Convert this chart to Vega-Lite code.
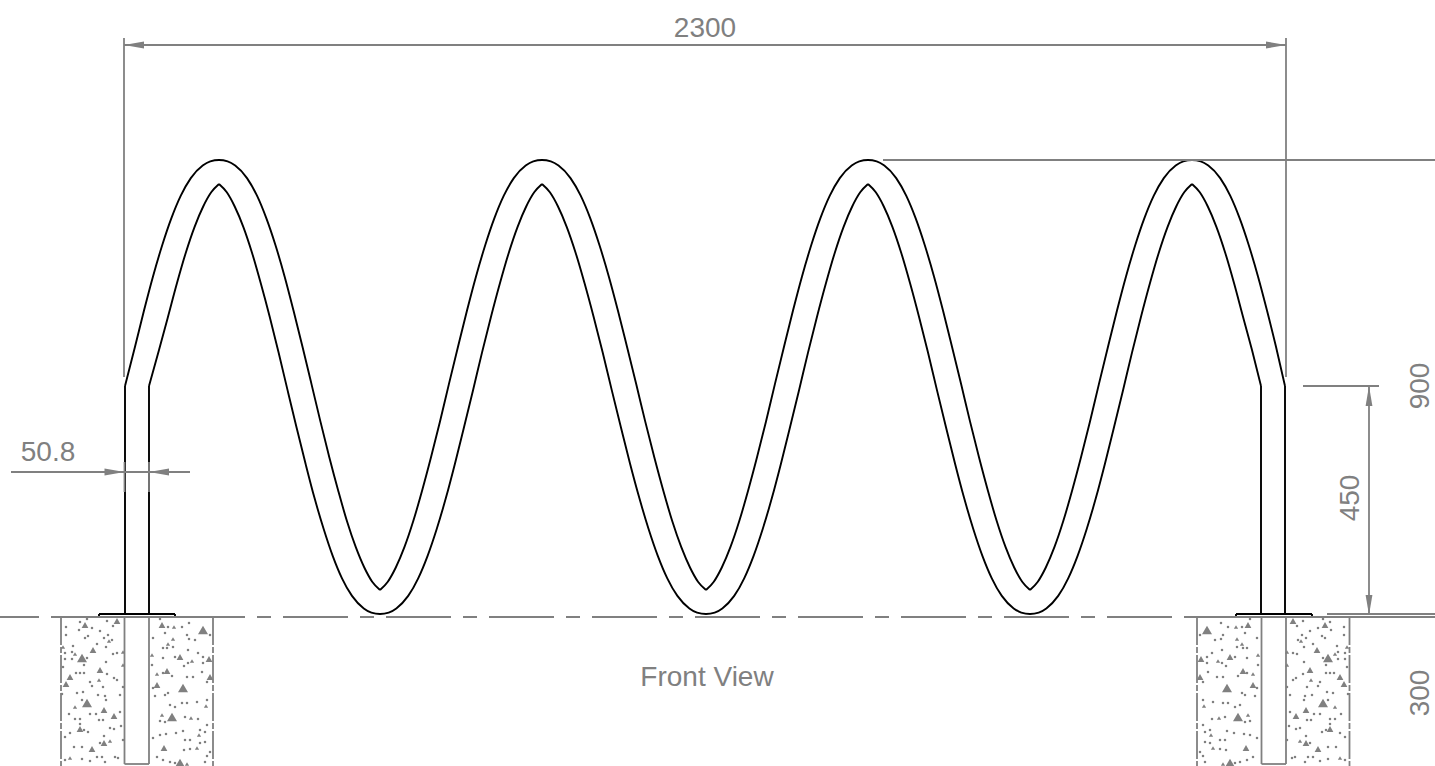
{"$schema":"https://vega.github.io/schema/vega-lite/v6.json","width":1435,"height":766,"autosize":"none","padding":0,"background":"white","config":{"view":{"stroke":null}},
"datasets":{"speckle":[
{"x":85,"y":625,"k":"m"},{"x":117,"y":621,"k":"m"},{"x":93,"y":650,"k":"m"},{"x":82,"y":658,"k":"l"},{"x":75,"y":654,"k":"s"},{"x":100,"y":670,"k":"m"},{"x":70,"y":677,"k":"m"},{"x":99,"y":680,"k":"s"},{"x":66,"y":684,"k":"m"},{"x":87,"y":703,"k":"l"},{"x":75,"y":707,"k":"s"},{"x":104,"y":710,"k":"m"},{"x":114,"y":716,"k":"m"},{"x":80,"y":729,"k":"m"},{"x":104,"y":743,"k":"m"},{"x":110,"y":741,"k":"s"},{"x":92,"y":749,"k":"m"},{"x":70,"y":758,"k":"s"},{"x":63,"y":647,"k":"s"},{"x":109,"y":641,"k":"s"},{"x":123,"y":652,"k":"s"},{"x":123,"y":665,"k":"s"},
{"x":162,"y":625,"k":"m"},{"x":174,"y":627,"k":"s"},{"x":203,"y":630,"k":"l"},{"x":168,"y":644,"k":"s"},{"x":173,"y":639,"k":"s"},{"x":180,"y":657,"k":"m"},{"x":209,"y":659,"k":"m"},{"x":192,"y":661,"k":"s"},{"x":167,"y":671,"k":"m"},{"x":157,"y":674,"k":"s"},{"x":210,"y":677,"k":"m"},{"x":157,"y":685,"k":"m"},{"x":183,"y":688,"k":"l"},{"x":172,"y":717,"k":"l"},{"x":162,"y":715,"k":"s"},{"x":191,"y":718,"k":"s"},{"x":206,"y":706,"k":"s"},{"x":199,"y":735,"k":"s"},{"x":164,"y":748,"k":"m"},{"x":197,"y":748,"k":"s"},{"x":180,"y":763,"k":"l"},{"x":187,"y":764,"k":"s"},{"x":152,"y":655,"k":"s"},
{"x":1325,"y":625,"k":"m"},{"x":1293,"y":621,"k":"m"},{"x":1317,"y":650,"k":"m"},{"x":1328,"y":658,"k":"l"},{"x":1335,"y":654,"k":"s"},{"x":1310,"y":670,"k":"m"},{"x":1340,"y":677,"k":"m"},{"x":1311,"y":680,"k":"s"},{"x":1344,"y":684,"k":"m"},{"x":1323,"y":703,"k":"l"},{"x":1335,"y":707,"k":"s"},{"x":1306,"y":710,"k":"m"},{"x":1296,"y":716,"k":"m"},{"x":1330,"y":729,"k":"m"},{"x":1306,"y":743,"k":"m"},{"x":1300,"y":741,"k":"s"},{"x":1318,"y":749,"k":"m"},{"x":1340,"y":758,"k":"s"},{"x":1347,"y":647,"k":"s"},{"x":1301,"y":641,"k":"s"},{"x":1287,"y":652,"k":"s"},{"x":1287,"y":665,"k":"s"},
{"x":1248,"y":625,"k":"m"},{"x":1236,"y":627,"k":"s"},{"x":1207,"y":630,"k":"l"},{"x":1242,"y":644,"k":"s"},{"x":1237,"y":639,"k":"s"},{"x":1230,"y":657,"k":"m"},{"x":1201,"y":659,"k":"m"},{"x":1218,"y":661,"k":"s"},{"x":1243,"y":671,"k":"m"},{"x":1253,"y":674,"k":"s"},{"x":1200,"y":677,"k":"m"},{"x":1253,"y":685,"k":"m"},{"x":1227,"y":688,"k":"l"},{"x":1238,"y":717,"k":"l"},{"x":1248,"y":715,"k":"s"},{"x":1219,"y":718,"k":"s"},{"x":1204,"y":706,"k":"s"},{"x":1211,"y":735,"k":"s"},{"x":1246,"y":748,"k":"m"},{"x":1213,"y":748,"k":"s"},{"x":1230,"y":763,"k":"l"},{"x":1223,"y":764,"k":"s"},{"x":1258,"y":655,"k":"s"},
{"x":80,"y":622,"k":"d"},{"x":87,"y":619,"k":"d"},{"x":107,"y":621,"k":"d"},{"x":66,"y":627,"k":"d"},{"x":79,"y":630,"k":"d"},{"x":92,"y":628,"k":"d"},{"x":100,"y":631,"k":"d"},{"x":113,"y":626,"k":"d"},{"x":108,"y":635,"k":"d"},{"x":66,"y":635,"k":"d"},{"x":88,"y":636,"k":"d"},{"x":85,"y":638,"k":"d"},{"x":104,"y":638,"k":"d"},{"x":112,"y":640,"k":"d"},{"x":73,"y":646,"k":"d"},{"x":106,"y":647,"k":"d"},{"x":97,"y":644,"k":"d"},{"x":65,"y":653,"k":"d"},{"x":72,"y":652,"k":"d"},{"x":87,"y":658,"k":"d"},{"x":65,"y":659,"k":"d"},{"x":72,"y":659,"k":"d"},{"x":106,"y":662,"k":"d"},{"x":113,"y":654,"k":"d"},{"x":117,"y":653,"k":"d"},{"x":84,"y":665,"k":"d"},{"x":63,"y":667,"k":"d"},{"x":76,"y":673,"k":"d"},{"x":80,"y":673,"k":"d"},{"x":84,"y":673,"k":"d"},{"x":107,"y":674,"k":"d"},{"x":114,"y":678,"k":"d"},{"x":117,"y":680,"k":"d"},{"x":90,"y":682,"k":"d"},{"x":92,"y":686,"k":"d"},{"x":103,"y":687,"k":"d"},{"x":123,"y":687,"k":"d"},{"x":77,"y":693,"k":"d"},{"x":83,"y":692,"k":"d"},{"x":62,"y":694,"k":"d"},{"x":105,"y":696,"k":"d"},{"x":98,"y":695,"k":"d"},{"x":106,"y":700,"k":"d"},{"x":120,"y":695,"k":"d"},{"x":82,"y":700,"k":"d"},{"x":69,"y":714,"k":"d"},{"x":90,"y":714,"k":"d"},{"x":96,"y":714,"k":"d"},{"x":75,"y":719,"k":"d"},{"x":80,"y":719,"k":"d"},{"x":99,"y":720,"k":"d"},{"x":103,"y":720,"k":"d"},{"x":80,"y":724,"k":"d"},{"x":110,"y":728,"k":"d"},{"x":114,"y":729,"k":"d"},{"x":121,"y":726,"k":"d"},{"x":120,"y":712,"k":"d"},{"x":88,"y":732,"k":"d"},{"x":84,"y":730,"k":"d"},{"x":104,"y":736,"k":"d"},{"x":70,"y":733,"k":"d"},{"x":65,"y":737,"k":"d"},{"x":123,"y":740,"k":"d"},{"x":74,"y":747,"k":"d"},{"x":82,"y":747,"k":"d"},{"x":100,"y":743,"k":"d"},{"x":82,"y":759,"k":"d"},{"x":90,"y":761,"k":"d"},{"x":97,"y":757,"k":"d"},{"x":102,"y":757,"k":"d"},{"x":115,"y":757,"k":"d"},{"x":118,"y":758,"k":"d"},{"x":65,"y":760,"k":"d"},{"x":105,"y":762,"k":"d"},
{"x":160,"y":619,"k":"d"},{"x":189,"y":623,"k":"d"},{"x":168,"y":627,"k":"d"},{"x":182,"y":627,"k":"d"},{"x":153,"y":638,"k":"d"},{"x":165,"y":633,"k":"d"},{"x":187,"y":635,"k":"d"},{"x":195,"y":640,"k":"d"},{"x":189,"y":639,"k":"d"},{"x":210,"y":635,"k":"d"},{"x":163,"y":648,"k":"d"},{"x":167,"y":648,"k":"d"},{"x":173,"y":647,"k":"d"},{"x":188,"y":650,"k":"d"},{"x":198,"y":653,"k":"d"},{"x":203,"y":657,"k":"d"},{"x":163,"y":658,"k":"d"},{"x":175,"y":657,"k":"d"},{"x":184,"y":666,"k":"d"},{"x":188,"y":663,"k":"d"},{"x":203,"y":663,"k":"d"},{"x":152,"y":665,"k":"d"},{"x":163,"y":673,"k":"d"},{"x":172,"y":676,"k":"d"},{"x":187,"y":677,"k":"d"},{"x":193,"y":677,"k":"d"},{"x":202,"y":672,"k":"d"},{"x":207,"y":682,"k":"d"},{"x":153,"y":688,"k":"d"},{"x":165,"y":695,"k":"d"},{"x":170,"y":705,"k":"d"},{"x":175,"y":707,"k":"d"},{"x":182,"y":703,"k":"d"},{"x":187,"y":703,"k":"d"},{"x":197,"y":702,"k":"d"},{"x":207,"y":700,"k":"d"},{"x":155,"y":696,"k":"d"},{"x":168,"y":693,"k":"d"},{"x":160,"y":721,"k":"d"},{"x":165,"y":722,"k":"d"},{"x":185,"y":717,"k":"d"},{"x":198,"y":719,"k":"d"},{"x":207,"y":725,"k":"d"},{"x":183,"y":731,"k":"d"},{"x":200,"y":730,"k":"d"},{"x":205,"y":732,"k":"d"},{"x":160,"y":735,"k":"d"},{"x":166,"y":734,"k":"d"},{"x":176,"y":733,"k":"d"},{"x":153,"y":738,"k":"d"},{"x":190,"y":740,"k":"d"},{"x":185,"y":740,"k":"d"},{"x":200,"y":743,"k":"d"},{"x":205,"y":742,"k":"d"},{"x":157,"y":757,"k":"d"},{"x":184,"y":750,"k":"d"},{"x":190,"y":749,"k":"d"},{"x":207,"y":756,"k":"d"},{"x":205,"y":762,"k":"d"},{"x":163,"y":760,"k":"d"},{"x":170,"y":762,"k":"d"},{"x":175,"y":763,"k":"d"},{"x":210,"y":752,"k":"d"},
{"x":1330,"y":622,"k":"d"},{"x":1323,"y":619,"k":"d"},{"x":1303,"y":621,"k":"d"},{"x":1344,"y":627,"k":"d"},{"x":1331,"y":630,"k":"d"},{"x":1318,"y":628,"k":"d"},{"x":1310,"y":631,"k":"d"},{"x":1297,"y":626,"k":"d"},{"x":1302,"y":635,"k":"d"},{"x":1344,"y":635,"k":"d"},{"x":1322,"y":636,"k":"d"},{"x":1325,"y":638,"k":"d"},{"x":1306,"y":638,"k":"d"},{"x":1298,"y":640,"k":"d"},{"x":1337,"y":646,"k":"d"},{"x":1304,"y":647,"k":"d"},{"x":1313,"y":644,"k":"d"},{"x":1345,"y":653,"k":"d"},{"x":1338,"y":652,"k":"d"},{"x":1323,"y":658,"k":"d"},{"x":1345,"y":659,"k":"d"},{"x":1338,"y":659,"k":"d"},{"x":1304,"y":662,"k":"d"},{"x":1297,"y":654,"k":"d"},{"x":1293,"y":653,"k":"d"},{"x":1326,"y":665,"k":"d"},{"x":1347,"y":667,"k":"d"},{"x":1334,"y":673,"k":"d"},{"x":1330,"y":673,"k":"d"},{"x":1326,"y":673,"k":"d"},{"x":1303,"y":674,"k":"d"},{"x":1296,"y":678,"k":"d"},{"x":1293,"y":680,"k":"d"},{"x":1320,"y":682,"k":"d"},{"x":1318,"y":686,"k":"d"},{"x":1307,"y":687,"k":"d"},{"x":1287,"y":687,"k":"d"},{"x":1333,"y":693,"k":"d"},{"x":1327,"y":692,"k":"d"},{"x":1348,"y":694,"k":"d"},{"x":1305,"y":696,"k":"d"},{"x":1312,"y":695,"k":"d"},{"x":1304,"y":700,"k":"d"},{"x":1290,"y":695,"k":"d"},{"x":1328,"y":700,"k":"d"},{"x":1341,"y":714,"k":"d"},{"x":1320,"y":714,"k":"d"},{"x":1314,"y":714,"k":"d"},{"x":1335,"y":719,"k":"d"},{"x":1330,"y":719,"k":"d"},{"x":1311,"y":720,"k":"d"},{"x":1307,"y":720,"k":"d"},{"x":1330,"y":724,"k":"d"},{"x":1300,"y":728,"k":"d"},{"x":1296,"y":729,"k":"d"},{"x":1289,"y":726,"k":"d"},{"x":1290,"y":712,"k":"d"},{"x":1322,"y":732,"k":"d"},{"x":1326,"y":730,"k":"d"},{"x":1306,"y":736,"k":"d"},{"x":1340,"y":733,"k":"d"},{"x":1345,"y":737,"k":"d"},{"x":1287,"y":740,"k":"d"},{"x":1336,"y":747,"k":"d"},{"x":1328,"y":747,"k":"d"},{"x":1310,"y":743,"k":"d"},{"x":1328,"y":759,"k":"d"},{"x":1320,"y":761,"k":"d"},{"x":1313,"y":757,"k":"d"},{"x":1308,"y":757,"k":"d"},{"x":1295,"y":757,"k":"d"},{"x":1292,"y":758,"k":"d"},{"x":1345,"y":760,"k":"d"},{"x":1305,"y":762,"k":"d"},
{"x":1250,"y":619,"k":"d"},{"x":1221,"y":623,"k":"d"},{"x":1242,"y":627,"k":"d"},{"x":1228,"y":627,"k":"d"},{"x":1257,"y":638,"k":"d"},{"x":1245,"y":633,"k":"d"},{"x":1223,"y":635,"k":"d"},{"x":1215,"y":640,"k":"d"},{"x":1221,"y":639,"k":"d"},{"x":1200,"y":635,"k":"d"},{"x":1247,"y":648,"k":"d"},{"x":1243,"y":648,"k":"d"},{"x":1237,"y":647,"k":"d"},{"x":1222,"y":650,"k":"d"},{"x":1212,"y":653,"k":"d"},{"x":1207,"y":657,"k":"d"},{"x":1247,"y":658,"k":"d"},{"x":1235,"y":657,"k":"d"},{"x":1226,"y":666,"k":"d"},{"x":1222,"y":663,"k":"d"},{"x":1207,"y":663,"k":"d"},{"x":1258,"y":665,"k":"d"},{"x":1247,"y":673,"k":"d"},{"x":1238,"y":676,"k":"d"},{"x":1223,"y":677,"k":"d"},{"x":1217,"y":677,"k":"d"},{"x":1208,"y":672,"k":"d"},{"x":1203,"y":682,"k":"d"},{"x":1257,"y":688,"k":"d"},{"x":1245,"y":695,"k":"d"},{"x":1240,"y":705,"k":"d"},{"x":1235,"y":707,"k":"d"},{"x":1228,"y":703,"k":"d"},{"x":1223,"y":703,"k":"d"},{"x":1213,"y":702,"k":"d"},{"x":1203,"y":700,"k":"d"},{"x":1255,"y":696,"k":"d"},{"x":1242,"y":693,"k":"d"},{"x":1250,"y":721,"k":"d"},{"x":1245,"y":722,"k":"d"},{"x":1225,"y":717,"k":"d"},{"x":1212,"y":719,"k":"d"},{"x":1203,"y":725,"k":"d"},{"x":1227,"y":731,"k":"d"},{"x":1210,"y":730,"k":"d"},{"x":1205,"y":732,"k":"d"},{"x":1250,"y":735,"k":"d"},{"x":1244,"y":734,"k":"d"},{"x":1234,"y":733,"k":"d"},{"x":1257,"y":738,"k":"d"},{"x":1220,"y":740,"k":"d"},{"x":1225,"y":740,"k":"d"},{"x":1210,"y":743,"k":"d"},{"x":1205,"y":742,"k":"d"},{"x":1253,"y":757,"k":"d"},{"x":1226,"y":750,"k":"d"},{"x":1220,"y":749,"k":"d"},{"x":1203,"y":756,"k":"d"},{"x":1205,"y":762,"k":"d"},{"x":1247,"y":760,"k":"d"},{"x":1240,"y":762,"k":"d"},{"x":1235,"y":763,"k":"d"},{"x":1200,"y":752,"k":"d"}
],
"arrows":[{"x":124,"y":45,"dir":"left"},{"x":1286,"y":45,"dir":"right"},{"x":1369,"y":386,"dir":"up"},{"x":1369,"y":615,"dir":"down"},{"x":124.5,"y":472,"dir":"right"},{"x":149,"y":472,"dir":"left"}]},
"encoding":{"x":{"field":"x","type":"quantitative","scale":{"domain":[0,1435],"nice":false,"zero":false},"axis":null},"y":{"field":"y","type":"quantitative","scale":{"domain":[766,0],"nice":false,"zero":false},"axis":null}},
"layer":[
{"data":{"values":[{"x":0,"y":617,"x2":1435,"y2":617}]},"mark":{"type":"rule","color":"#808080","strokeWidth":1.8,"strokeDash":[65,12,14,12],"strokeDashOffset":26},"encoding":{"x2":{"field":"x2"},"y2":{"field":"y2"}}},
{"data":{"values":[{"x":61,"y":617,"x2":61,"y2":766},{"x":213,"y":617,"x2":213,"y2":766},{"x":1197,"y":617,"x2":1197,"y2":766},{"x":1349.5,"y":617,"x2":1349.5,"y2":766}]},"mark":{"type":"rule","color":"#808080","strokeWidth":1.8,"strokeDash":[28,2,6,2]},"encoding":{"x2":{"field":"x2"},"y2":{"field":"y2"}}},
{"data":{"name":"speckle"},"transform":[{"filter":"datum.k==='d'"}],"mark":{"type":"point","shape":"square","filled":true,"opacity":1,"color":"#808080","size":5}},
{"data":{"name":"speckle"},"transform":[{"filter":"datum.k==='s'"}],"mark":{"type":"point","shape":"triangle-up","filled":true,"opacity":1,"color":"#808080","size":18}},
{"data":{"name":"speckle"},"transform":[{"filter":"datum.k==='m'"}],"mark":{"type":"point","shape":"triangle-up","filled":true,"opacity":1,"color":"#808080","size":45}},
{"data":{"name":"speckle"},"transform":[{"filter":"datum.k==='l'"}],"mark":{"type":"point","shape":"triangle-up","filled":true,"opacity":1,"color":"#808080","size":100}},
{"data":{"values":[
{"s":"b1","x":125,"y":386},{"s":"b1","x":135,"y":346.8},{"s":"b1","x":144,"y":310.5},{"s":"b1","x":153,"y":276.4},{"s":"b1","x":162.2,"y":245.3},{"s":"b1","x":171.4,"y":218.2},{"s":"b1","x":180.8,"y":195.7},{"s":"b1","x":190.8,"y":178.1},{"s":"b1","x":202.7,"y":165.6},{"s":"b1","x":210.3,"y":161.4},{"s":"b1","x":219,"y":160},{"s":"b1","x":227.6,"y":161.4},{"s":"b1","x":235.2,"y":165.6},{"s":"b1","x":247,"y":178.1},{"s":"b1","x":257,"y":195.7},{"s":"b1","x":266.3,"y":218.2},{"s":"b1","x":275.5,"y":245.3},{"s":"b1","x":284.6,"y":276.4},{"s":"b1","x":293.5,"y":310.5},{"s":"b1","x":302.5,"y":346.8},{"s":"b1","x":311.5,"y":384.1},{"s":"b1","x":320.4,"y":421.4},{"s":"b1","x":329.3,"y":457.3},{"s":"b1","x":338.3,"y":491},{"s":"b1","x":347,"y":521.3},{"s":"b1","x":355.8,"y":547.2},{"s":"b1","x":364.3,"y":567.5},{"s":"b1","x":372.2,"y":581.7},{"s":"b1","x":380,"y":590},
{"s":"b2","x":380,"y":590},{"s":"b2","x":387.8,"y":581.7},{"s":"b2","x":395.8,"y":567.5},{"s":"b2","x":404.4,"y":547.2},{"s":"b2","x":413.2,"y":521.3},{"s":"b2","x":422,"y":491},{"s":"b2","x":431,"y":457.3},{"s":"b2","x":440,"y":421.4},{"s":"b2","x":448.9,"y":384.1},{"s":"b2","x":458,"y":346.8},{"s":"b2","x":467,"y":310.5},{"s":"b2","x":476,"y":276.4},{"s":"b2","x":485.2,"y":245.3},{"s":"b2","x":494.4,"y":218.2},{"s":"b2","x":503.8,"y":195.7},{"s":"b2","x":513.8,"y":178.1},{"s":"b2","x":525.7,"y":165.6},{"s":"b2","x":533.3,"y":161.4},{"s":"b2","x":542,"y":160},{"s":"b2","x":550.8,"y":161.4},{"s":"b2","x":558.5,"y":165.6},{"s":"b2","x":570.5,"y":178.1},{"s":"b2","x":580.7,"y":195.7},{"s":"b2","x":590.2,"y":218.2},{"s":"b2","x":599.5,"y":245.3},{"s":"b2","x":608.8,"y":276.4},{"s":"b2","x":617.9,"y":310.5},{"s":"b2","x":627,"y":346.8},{"s":"b2","x":636.2,"y":384.1},{"s":"b2","x":645.2,"y":421.4},{"s":"b2","x":654.3,"y":457.3},{"s":"b2","x":663.4,"y":491},{"s":"b2","x":672.3,"y":521.3},{"s":"b2","x":681.3,"y":547.2},{"s":"b2","x":690,"y":567.5},{"s":"b2","x":698,"y":581.7},{"s":"b2","x":706,"y":590},
{"s":"b3","x":706,"y":590},{"s":"b3","x":713.8,"y":581.7},{"s":"b3","x":721.8,"y":567.5},{"s":"b3","x":730.4,"y":547.2},{"s":"b3","x":739.2,"y":521.3},{"s":"b3","x":748,"y":491},{"s":"b3","x":757,"y":457.3},{"s":"b3","x":766,"y":421.4},{"s":"b3","x":774.9,"y":384.1},{"s":"b3","x":784,"y":346.8},{"s":"b3","x":793,"y":310.5},{"s":"b3","x":802,"y":276.4},{"s":"b3","x":811.2,"y":245.3},{"s":"b3","x":820.4,"y":218.2},{"s":"b3","x":829.8,"y":195.7},{"s":"b3","x":839.8,"y":178.1},{"s":"b3","x":851.7,"y":165.6},{"s":"b3","x":859.3,"y":161.4},{"s":"b3","x":868,"y":160},{"s":"b3","x":876.7,"y":161.4},{"s":"b3","x":884.3,"y":165.6},{"s":"b3","x":896.2,"y":178.1},{"s":"b3","x":906.2,"y":195.7},{"s":"b3","x":915.6,"y":218.2},{"s":"b3","x":924.8,"y":245.3},{"s":"b3","x":934,"y":276.4},{"s":"b3","x":943,"y":310.5},{"s":"b3","x":952,"y":346.8},{"s":"b3","x":961.1,"y":384.1},{"s":"b3","x":970,"y":421.4},{"s":"b3","x":979,"y":457.3},{"s":"b3","x":988,"y":491},{"s":"b3","x":996.8,"y":521.3},{"s":"b3","x":1005.6,"y":547.2},{"s":"b3","x":1014.2,"y":567.5},{"s":"b3","x":1022.2,"y":581.7},{"s":"b3","x":1030,"y":590},
{"s":"b4","x":1030,"y":590},{"s":"b4","x":1037.8,"y":581.7},{"s":"b4","x":1045.8,"y":567.5},{"s":"b4","x":1054.4,"y":547.2},{"s":"b4","x":1063.2,"y":521.3},{"s":"b4","x":1072,"y":491},{"s":"b4","x":1081,"y":457.3},{"s":"b4","x":1090,"y":421.4},{"s":"b4","x":1098.9,"y":384.1},{"s":"b4","x":1108,"y":346.8},{"s":"b4","x":1117,"y":310.5},{"s":"b4","x":1126,"y":276.4},{"s":"b4","x":1135.2,"y":245.3},{"s":"b4","x":1144.4,"y":218.2},{"s":"b4","x":1153.8,"y":195.7},{"s":"b4","x":1163.8,"y":178.1},{"s":"b4","x":1175.7,"y":165.6},{"s":"b4","x":1183.3,"y":161.4},{"s":"b4","x":1192,"y":160},{"s":"b4","x":1200.7,"y":161.4},{"s":"b4","x":1208.3,"y":165.6},{"s":"b4","x":1220.2,"y":178.1},{"s":"b4","x":1230.2,"y":195.7},{"s":"b4","x":1239.6,"y":218.2},{"s":"b4","x":1248.8,"y":245.3},{"s":"b4","x":1258,"y":276.4},{"s":"b4","x":1267,"y":310.5},{"s":"b4","x":1276,"y":346.8},{"s":"b4","x":1285,"y":386},
{"s":"a1","x":149,"y":386},{"s":"a1","x":159,"y":350},{"s":"a1","x":168,"y":316.7},{"s":"a1","x":177,"y":283},{"s":"a1","x":185.8,"y":252.7},{"s":"a1","x":194.6,"y":226.8},{"s":"a1","x":203.2,"y":206.5},{"s":"a1","x":211.2,"y":192.3},{"s":"a1","x":219,"y":184},
{"s":"a2","x":219,"y":184},{"s":"a2","x":226.8,"y":192.3},{"s":"a2","x":234.7,"y":206.5},{"s":"a2","x":243.3,"y":226.8},{"s":"a2","x":252,"y":252.7},{"s":"a2","x":260.7,"y":283},{"s":"a2","x":269.7,"y":316.7},{"s":"a2","x":278.6,"y":352.6},{"s":"a2","x":287.5,"y":389.9},{"s":"a2","x":296.5,"y":427.2},{"s":"a2","x":305.5,"y":463.5},{"s":"a2","x":314.4,"y":497.6},{"s":"a2","x":323.6,"y":528.7},{"s":"a2","x":332.7,"y":555.8},{"s":"a2","x":342,"y":578.3},{"s":"a2","x":352,"y":595.9},{"s":"a2","x":363.8,"y":608.4},{"s":"a2","x":371.4,"y":612.6},{"s":"a2","x":380,"y":614},{"s":"a2","x":388.7,"y":612.6},{"s":"a2","x":396.3,"y":608.4},{"s":"a2","x":408.2,"y":595.9},{"s":"a2","x":418.2,"y":578.3},{"s":"a2","x":427.6,"y":555.8},{"s":"a2","x":436.8,"y":528.7},{"s":"a2","x":446,"y":497.6},{"s":"a2","x":455,"y":463.5},{"s":"a2","x":464,"y":427.2},{"s":"a2","x":473.1,"y":389.9},{"s":"a2","x":482,"y":352.6},{"s":"a2","x":491,"y":316.7},{"s":"a2","x":500,"y":283},{"s":"a2","x":508.8,"y":252.7},{"s":"a2","x":517.6,"y":226.8},{"s":"a2","x":526.2,"y":206.5},{"s":"a2","x":534.2,"y":192.3},{"s":"a2","x":542,"y":184},
{"s":"a3","x":542,"y":184},{"s":"a3","x":549.9,"y":192.3},{"s":"a3","x":558,"y":206.5},{"s":"a3","x":566.7,"y":226.8},{"s":"a3","x":575.6,"y":252.7},{"s":"a3","x":584.5,"y":283},{"s":"a3","x":593.6,"y":316.7},{"s":"a3","x":602.7,"y":352.6},{"s":"a3","x":611.7,"y":389.9},{"s":"a3","x":620.9,"y":427.2},{"s":"a3","x":630,"y":463.5},{"s":"a3","x":639.2,"y":497.6},{"s":"a3","x":648.5,"y":528.7},{"s":"a3","x":657.8,"y":555.8},{"s":"a3","x":667.3,"y":578.3},{"s":"a3","x":677.4,"y":595.9},{"s":"a3","x":689.4,"y":608.4},{"s":"a3","x":697.1,"y":612.6},{"s":"a3","x":706,"y":614},{"s":"a3","x":714.7,"y":612.6},{"s":"a3","x":722.3,"y":608.4},{"s":"a3","x":734.2,"y":595.9},{"s":"a3","x":744.2,"y":578.3},{"s":"a3","x":753.6,"y":555.8},{"s":"a3","x":762.8,"y":528.7},{"s":"a3","x":772,"y":497.6},{"s":"a3","x":781,"y":463.5},{"s":"a3","x":790,"y":427.2},{"s":"a3","x":799.1,"y":389.9},{"s":"a3","x":808,"y":352.6},{"s":"a3","x":817,"y":316.7},{"s":"a3","x":826,"y":283},{"s":"a3","x":834.8,"y":252.7},{"s":"a3","x":843.6,"y":226.8},{"s":"a3","x":852.2,"y":206.5},{"s":"a3","x":860.2,"y":192.3},{"s":"a3","x":868,"y":184},
{"s":"a4","x":868,"y":184},{"s":"a4","x":875.8,"y":192.3},{"s":"a4","x":883.8,"y":206.5},{"s":"a4","x":892.4,"y":226.8},{"s":"a4","x":901.2,"y":252.7},{"s":"a4","x":910,"y":283},{"s":"a4","x":919,"y":316.7},{"s":"a4","x":928,"y":352.6},{"s":"a4","x":936.9,"y":389.9},{"s":"a4","x":946,"y":427.2},{"s":"a4","x":955,"y":463.5},{"s":"a4","x":964,"y":497.6},{"s":"a4","x":973.2,"y":528.7},{"s":"a4","x":982.4,"y":555.8},{"s":"a4","x":991.8,"y":578.3},{"s":"a4","x":1001.8,"y":595.9},{"s":"a4","x":1013.7,"y":608.4},{"s":"a4","x":1021.3,"y":612.6},{"s":"a4","x":1030,"y":614},{"s":"a4","x":1038.7,"y":612.6},{"s":"a4","x":1046.3,"y":608.4},{"s":"a4","x":1058.2,"y":595.9},{"s":"a4","x":1068.2,"y":578.3},{"s":"a4","x":1077.6,"y":555.8},{"s":"a4","x":1086.8,"y":528.7},{"s":"a4","x":1096,"y":497.6},{"s":"a4","x":1105,"y":463.5},{"s":"a4","x":1114,"y":427.2},{"s":"a4","x":1123.1,"y":389.9},{"s":"a4","x":1132,"y":352.6},{"s":"a4","x":1141,"y":316.7},{"s":"a4","x":1150,"y":283},{"s":"a4","x":1158.8,"y":252.7},{"s":"a4","x":1167.6,"y":226.8},{"s":"a4","x":1176.2,"y":206.5},{"s":"a4","x":1184.2,"y":192.3},{"s":"a4","x":1192,"y":184},
{"s":"a5","x":1192,"y":184},{"s":"a5","x":1199.8,"y":192.3},{"s":"a5","x":1207.8,"y":206.5},{"s":"a5","x":1216.4,"y":226.8},{"s":"a5","x":1225.2,"y":252.7},{"s":"a5","x":1234,"y":283},{"s":"a5","x":1243,"y":316.7},{"s":"a5","x":1252,"y":350},{"s":"a5","x":1261,"y":386}
]},"mark":{"type":"line","color":"#000000","strokeWidth":1.9,"interpolate":"monotone"},"encoding":{"detail":{"field":"s"}}},
{"data":{"values":[
{"x":125,"y":386,"x2":125,"y2":614},{"x":149,"y":386,"x2":149,"y2":614},{"x":1261,"y":386,"x2":1261,"y2":614},{"x":1285,"y":386,"x2":1285,"y2":614},
{"x":99,"y":614,"x2":175,"y2":614},{"x":99,"y":614,"x2":99,"y2":617},{"x":175,"y":614,"x2":175,"y2":617},{"x":1236,"y":614,"x2":1312,"y2":614},{"x":1236,"y":614,"x2":1236,"y2":617},{"x":1312,"y":614,"x2":1312,"y2":617}
]},"mark":{"type":"rule","color":"#000000","strokeWidth":1.9},"encoding":{"x2":{"field":"x2"},"y2":{"field":"y2"}}},
{"data":{"values":[
{"x":124,"y":38,"x2":124,"y2":377},{"x":1286,"y":38,"x2":1286,"y2":377},{"x":124,"y":45,"x2":1286,"y2":45},
{"x":883,"y":160,"x2":1435,"y2":160},{"x":1303,"y":386,"x2":1379,"y2":386},{"x":1369,"y":386,"x2":1369,"y2":615},
{"x":1327,"y":614,"x2":1435,"y2":614},{"x":1327,"y":617,"x2":1435,"y2":617},
{"x":11,"y":472,"x2":190,"y2":472},{"x":124.5,"y":462,"x2":124.5,"y2":492},{"x":149,"y":462,"x2":149,"y2":492},
{"x":61,"y":617,"x2":213,"y2":617},{"x":1197,"y":617,"x2":1350,"y2":617},
{"x":124.5,"y":617,"x2":124.5,"y2":764},{"x":149,"y":617,"x2":149,"y2":764},{"x":124.5,"y":764,"x2":149,"y2":764},
{"x":1261.5,"y":617,"x2":1261.5,"y2":764},{"x":1286,"y":617,"x2":1286,"y2":764},{"x":1261.5,"y":764,"x2":1286,"y2":764}
]},"mark":{"type":"rule","color":"#808080","strokeWidth":1.8},"encoding":{"x2":{"field":"x2"},"y2":{"field":"y2"}}},
{"data":{"name":"arrows"},"transform":[{"filter":"datum.dir==='right'"}],"mark":{"type":"point","shape":"M0,0L-1,-0.17L-1,0.17Z","filled":true,"opacity":1,"color":"#808080","size":1600}},
{"data":{"name":"arrows"},"transform":[{"filter":"datum.dir==='left'"}],"mark":{"type":"point","shape":"M0,0L1,-0.17L1,0.17Z","filled":true,"opacity":1,"color":"#808080","size":1600}},
{"data":{"name":"arrows"},"transform":[{"filter":"datum.dir==='up'"}],"mark":{"type":"point","shape":"M0,0L-0.17,1L0.17,1Z","filled":true,"opacity":1,"color":"#808080","size":1600}},
{"data":{"name":"arrows"},"transform":[{"filter":"datum.dir==='down'"}],"mark":{"type":"point","shape":"M0,0L-0.17,-1L0.17,-1Z","filled":true,"opacity":1,"color":"#808080","size":1600}},
{"data":{"values":[{"x":705,"y":29,"t":"2300"},{"x":707,"y":678,"t":"Front View"},{"x":48,"y":453,"t":"50.8"}]},"mark":{"type":"text","font":"Liberation Sans","fontSize":28,"color":"#808080","align":"center","baseline":"middle"},"encoding":{"text":{"field":"t"}}},
{"data":{"values":[{"x":1421,"y":386,"t":"900"},{"x":1351,"y":498,"t":"450"},{"x":1421,"y":693,"t":"300"}]},"mark":{"type":"text","font":"Liberation Sans","fontSize":28,"color":"#808080","align":"center","baseline":"middle","angle":270},"encoding":{"text":{"field":"t"}}}
]}
